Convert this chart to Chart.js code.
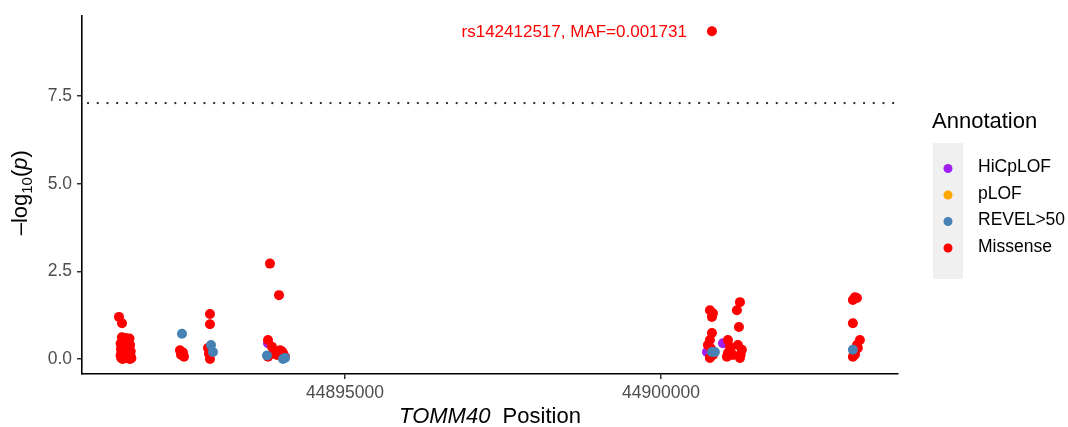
<!DOCTYPE html>
<html>
<head>
<meta charset="utf-8">
<script src="https://cdn.jsdelivr.net/npm/chart.js@4/dist/chart.umd.min.js"></script>
<style>
  html, body { margin: 0; padding: 0; background: #ffffff; }
  #wrap { width: 1068px; height: 427px; }
</style>
</head>
<body>
<div id="wrap"><canvas id="c" width="1068" height="427"></canvas></div>
<script>
// ---------------- data ----------------
const seriesNames = ["HiCpLOF", "pLOF", "REVEL>50", "Missense"];
const seriesColors = ["#A020F0", "#FFA500", "#4682B4", "#FF0000"];

const hiCpLofX = [44893782, 44900727, 44900980];
const hiCpLofY = [0.45, 0.20, 0.45];

const pLofX = [];
const pLofY = [];

const revelX = [44892421, 44892880, 44892911, 44894019, 44893766, 44894051, 44900806, 44900853, 44903036];
const revelY = [0.72, 0.40, 0.20, 0.00, 0.10, 0.03, 0.20, 0.20, 0.26];

const missenseX = [
  // cluster 1
  44891424, 44891472,
  44891470, 44891530, 44891590,
  44891480, 44891560,
  44891450, 44891520, 44891600,
  44891470, 44891550,
  44891455, 44891500, 44891585, 44891610,
  44891465, 44891530, 44891600,
  44891450, 44891490, 44891560, 44891610,
  44891460, 44891520, 44891580, 44891620,
  44891480, 44891600,
  // cluster 2
  44892389, 44892437, 44892405, 44892453,
  // cluster 3
  44892864, 44892864, 44892832, 44892864, 44892848,
  // cluster 4
  44893813, 44893956, 44893782, 44893845, 44893971, 44894019, 44893782, 44893924, 44894051, 44893860, 44894000,
  // cluster 5
  44900774, 44900822, 44900806, 44900806, 44900774, 44900742, 44900774, 44900822, 44900790,
  // top hit
  44900806,
  // cluster 6
  44901249, 44901201, 44901233, 44901059, 44901091, 44901059, 44901217, 44901280, 44901249, 44901138, 44901043, 44901100, 44901260,
  // cluster 7
  44903068, 44903036, 44903100, 44903036, 44903147, 44903100, 44903068, 44903036, 44903115, 44903068
];
const missenseY = [
  1.20, 1.02,
  0.62, 0.60, 0.58,
  0.52, 0.48,
  0.44, 0.42, 0.40,
  0.36, 0.33,
  0.28, 0.26, 0.25, 0.22,
  0.18, 0.16, 0.14,
  0.10, 0.08, 0.07, 0.06,
  0.03, 0.02, 0.01, 0.02,
  0.00, 0.00,
  0.25, 0.18, 0.12, 0.06,
  1.28, 0.99, 0.31, 0.00, 0.15,
  2.72, 1.82, 0.54, 0.35, 0.25, 0.17, 0.06, 0.11, 0.06, 0.15, 0.22,
  1.39, 1.30, 1.20, 0.74, 0.54, 0.40, 0.03, 0.11, 0.30,
  9.35,
  1.62, 1.39, 0.91, 0.54, 0.35, 0.17, 0.40, 0.26, 0.03, 0.11, 0.06, 0.22, 0.12,
  1.76, 1.68, 1.74, 1.02, 0.54, 0.40, 0.20, 0.06, 0.31, 0.12
];

const xTicks = [44895000, 44900000];
const yTicks = [0, 2.5, 5.0, 7.5];
const xMin = 44890839, xMax = 44903750;
const yMin = -0.43, yMax = 9.80;
const threshold = 7.3;
const topHitLabel = "rs142412517, MAF=0.001731";
const legendTitle = "Annotation";
const xTitleItalic = "TOMM40";
const xTitleRest = "  Position";

// ---------------- build ----------------
function pts(xs, ys) { return xs.map((x, i) => ({ x: x, y: ys[i] })); }
const seriesData = [pts(hiCpLofX, hiCpLofY), pts(pLofX, pLofY), pts(revelX, revelY), pts(missenseX, missenseY)];
const drawOrder = [2, 3, 0, 1]; // lower = drawn on top

const datasets = seriesNames.map((n, i) => ({
  label: n,
  data: seriesData[i],
  backgroundColor: seriesColors[i],
  borderWidth: 0,
  pointRadius: 5,
  pointHoverRadius: 5,
  order: drawOrder[i]
}));

const FONT = "'Liberation Sans', Arial, Helvetica, sans-serif";

const overlay = {
  id: 'overlay',
  beforeDatasetsDraw(chart) {
    const ctx = chart.ctx, ca = chart.chartArea, ys = chart.scales.y;
    const py = ys.getPixelForValue(threshold);
    ctx.save();
    ctx.strokeStyle = '#222';
    ctx.lineWidth = 2.2;
    ctx.lineCap = 'round';
    ctx.setLineDash([0.1, 9.6]);
    ctx.beginPath();
    ctx.moveTo(ca.left + 6, py);
    ctx.lineTo(ca.right, py);
    ctx.stroke();
    ctx.restore();
  },
  afterDraw(chart) {
    const ctx = chart.ctx, ca = chart.chartArea, xs = chart.scales.x, ys = chart.scales.y;
    ctx.save();
    // top hit label
    let mi = 0;
    missenseY.forEach((v, i) => { if (v > missenseY[mi]) mi = i; });
    const hx = xs.getPixelForValue(missenseX[mi]), hy = ys.getPixelForValue(missenseY[mi]);
    ctx.fillStyle = '#FF0000';
    ctx.font = '17px ' + FONT;
    ctx.textAlign = 'right';
    ctx.textBaseline = 'middle';
    ctx.fillText(topHitLabel, hx - 25, hy + 1);

    // x title
    ctx.fillStyle = '#000';
    ctx.textBaseline = 'alphabetic';
    ctx.textAlign = 'left';
    ctx.font = 'italic 22px ' + FONT;
    const w1 = ctx.measureText(xTitleItalic).width;
    ctx.font = '22px ' + FONT;
    const w2 = ctx.measureText(xTitleRest).width;
    const cx = (ca.left + ca.right) / 2;
    let sx = cx - (w1 + w2) / 2;
    ctx.font = 'italic 22px ' + FONT;
    ctx.fillText(xTitleItalic, sx, 423);
    ctx.font = '22px ' + FONT;
    ctx.fillText(xTitleRest, sx + w1, 423);

    // y title: -log10(p)
    const parts = [
      { t: '\u2013log', f: '22px ' + FONT, dy: 0 },
      { t: '10', f: '15px ' + FONT, dy: 5 },
      { t: '(', f: '22px ' + FONT, dy: 0 },
      { t: 'p', f: 'italic 22px ' + FONT, dy: 0 },
      { t: ')', f: '22px ' + FONT, dy: 0 }
    ];
    let tw = 0;
    parts.forEach(p => { ctx.font = p.f; p.w = ctx.measureText(p.t).width; tw += p.w; });
    ctx.save();
    ctx.translate(20, (ca.top + ca.bottom) / 2 - 2);
    ctx.rotate(-Math.PI / 2);
    let px = -tw / 2;
    parts.forEach(p => { ctx.font = p.f; ctx.fillText(p.t, px, 7 + p.dy); px += p.w; });
    ctx.restore();

    // legend
    ctx.fillStyle = '#000';
    ctx.font = '22px ' + FONT;
    ctx.textAlign = 'left';
    ctx.fillText(legendTitle, 932, 128);
    ctx.fillStyle = '#F0F0F0';
    ctx.fillRect(933, 143, 30, 136);
    const rowsY = [168.5, 195, 221.5, 248];
    seriesNames.forEach((n, i) => {
      ctx.fillStyle = seriesColors[i];
      ctx.beginPath();
      ctx.arc(948, rowsY[i], 4.5, 0, Math.PI * 2);
      ctx.fill();
      ctx.fillStyle = '#000';
      ctx.font = '17.5px ' + FONT;
      ctx.textBaseline = 'middle';
      ctx.fillText(n, 978, rowsY[i] - 1);
    });
    ctx.restore();
  }
};

new Chart(document.getElementById('c'), {
  type: 'scatter',
  data: { datasets: datasets },
  options: {
    responsive: false,
    animation: false,
    devicePixelRatio: 1,
    layout: { padding: { left: 0, right: 170, top: 14, bottom: 0 } },
    plugins: { legend: { display: false }, tooltip: { enabled: false } },
    scales: {
      x: {
        type: 'linear',
        min: xMin, max: xMax,
        afterBuildTicks: s => { s.ticks = xTicks.map(v => ({ value: v })); },
        afterFit: s => { s.height = 53; },
        ticks: {
          callback: v => String(v),
          color: '#4D4D4D',
          font: { size: 17.5, family: FONT },
          padding: 4,
          maxRotation: 0,
          autoSkip: false
        },
        grid: { drawOnChartArea: false, drawTicks: true, tickLength: 5, color: '#333', lineWidth: 1.5 },
        border: { display: true, color: '#000', width: 1.6 }
      },
      y: {
        type: 'linear',
        min: yMin, max: yMax,
        afterBuildTicks: s => { s.ticks = yTicks.map(v => ({ value: v })); },
        afterFit: s => { s.width = 82; },
        ticks: {
          callback: v => Number(v).toFixed(1),
          color: '#4D4D4D',
          font: { size: 17.5, family: FONT },
          padding: 5,
          autoSkip: false
        },
        grid: { drawOnChartArea: false, drawTicks: true, tickLength: 5, color: '#333', lineWidth: 1.5 },
        border: { display: true, color: '#000', width: 1.6 }
      }
    }
  },
  plugins: [overlay]
});
</script>
</body>
</html>
